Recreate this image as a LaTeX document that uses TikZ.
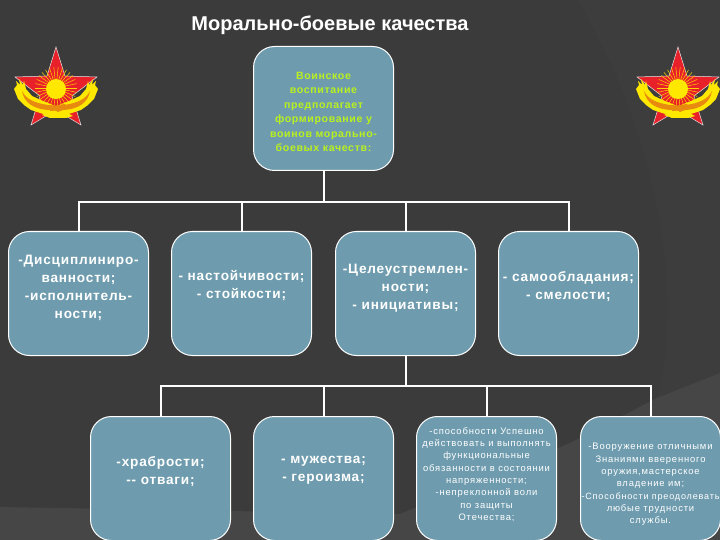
\documentclass[tikz,border=0pt]{standalone}
\usetikzlibrary{calc}
\usepackage{fontspec}
\setmainfont{Liberation Sans}
\newfontfamily\trb[LetterSpace=6]{Liberation Sans Bold}
\newfontfamily\trs[LetterSpace=9]{Liberation Sans}
\definecolor{bgc}{HTML}{3B3B3B}
\definecolor{bgr}{HTML}{3D3D3D}
\definecolor{bgl}{HTML}{464646}
\definecolor{boxc}{HTML}{6E9CAE}
\definecolor{limec}{HTML}{B9F01E}
\definecolor{stard}{HTML}{E8202A}
\definecolor{suny}{HTML}{FFE800}
\definecolor{wingo}{HTML}{E88A10}
\newcommand{\btext}[2]{\parbox[c][124pt][t]{140pt}{\centering\vspace*{#1pt}#2\par}}
\tikzset{
  card/.style={draw=white,line width=1pt,fill=boxc,rounded corners=21pt,minimum width=140pt,minimum height=124pt,inner sep=0pt,text=white,anchor=north west},
  link/.style={draw=white,line width=2pt},
  midtxt/.style={font=\trb\fontsize{13.6}{18}\selectfont},
  smalltxt/.style={font=\trs\fontsize{9.4}{12.3}\selectfont},
  toptxt/.style={font=\trb\fontsize{10.6}{14.5}\selectfont,text=limec},
  emblem/.pic={
    \fill[stard,draw=white!80!gray,line width=.5pt] (0,-41) -- (9,-12) -- (41,-11) -- (16,8) -- (25,37) -- (0,22) -- (-25,37) -- (-16,8) -- (-41,-11) -- (-9,-12) -- cycle;
    \foreach \a in {0,12,...,348}{\draw[suny!80!orange,line width=.5pt] (\a:9) -- (\a:21);}
    \fill[suny] (0,1) circle (10);
    \foreach \s in {1,-1}{
      \begin{scope}[xscale=\s]
        \fill[suny] (-42,1) -- (-39,-3) -- (-40,-7) -- (-36,-3) -- (-37,-9) -- (-33,-3) -- (-32,-7) -- (-30,1) -- (-24,8) -- (-13,13) -- (-3,17) -- (2,24) -- (-9,27) -- (-16,25) -- (-25,22) -- (-32,17) -- (-38,11) -- cycle;
        \fill[wingo] (-34,3) .. controls (-30,11) and (-22,15) .. (-8,17) -- (6,18) -- (6,23) -- (-8,22) .. controls (-22,21) and (-32,15) .. (-34,3) -- cycle;
      \end{scope}
    }
    \fill[suny] (-14,27) -- (-8,24) -- (10,24) -- (17,28) -- (10,30) -- (-6,30) -- cycle;
    \fill[wingo] (-6,19) -- (8,16) -- (14,19) -- (2,24) -- cycle;
  }
}
\begin{document}
\begin{tikzpicture}[x=1pt,y=-1pt]
\useasboundingbox (0,0) rectangle (720,540);
\fill[bgc] (0,0) rectangle (720,540);
\fill[bgr] (577,0) .. controls (640,100) and (690,270) .. (657,398) -- (720,373) -- (720,0) -- cycle;
\fill[bgl] (0,507) -- (400,514) -- (570,443) -- (657,398) -- (720,373) -- (720,540) -- (0,540) -- cycle;
\node[anchor=center,text=white,font=\bfseries\fontsize{20}{24}\selectfont] (title) at (330,25) {Морально-боевые качества};
\pic at (56,88) {emblem};
\pic at (678,88) {emblem};

\node[card,toptxt] (top) at (253,46) {\btext{25.5}{Воинское\\воспитание\\предполагает\\формирование у\\воинов морально-\\боевых качеств:}};

\node[card,midtxt] (a) at (8,231) {\btext{24}{-Дисциплиниро-\\ванности;\\-исполнитель-\\ности;}};
\node[card,midtxt] (b) at (171,231) {\btext{39}{- настойчивости;\\- стойкости;}};
\node[card,midtxt] (c) at (335,231) {\btext{33}{-Целеустремлен-\\ности;\\- инициативы;}};
\node[card,midtxt] (d) at (498,231) {\btext{40}{- самообладания;\\- смелости;}};

\node[card,midtxt] (e) at (90,416) {\btext{40}{-храбрости;\\-- отваги;}};
\node[card,midtxt] (f) at (253,416) {\btext{40}{- мужества;\\- героизма;}};
\node[card,smalltxt] (g) at (416,416) {\btext{11}{-способности Успешно\\действовать и выполнять\\функциональные\\обязанности в состоянии\\напряженности;\\-непреклонной воли\\по защиты\\Отечества;}};
\node[card,smalltxt] (h) at (580,416) {\btext{27}{-Вооружение отличными\\Знаниями вверенного\\оружия,мастерское\\владение им;\\{\fontsize{9.05}{12.3}\selectfont -Способности преодолевать}\\любые трудности\\службы.}};

\coordinate (bus1) at ($(top.south)+(0,31)$);
\coordinate (bus2) at ($(c.south)+(0,30)$);
\draw[link] (top.south) -- (bus1);
\foreach \n in {a,b,c,d}{\draw[link,line cap=rect] (bus1) -| (\n.north);}
\draw[link] (c.south) -- (bus2);
\foreach \n in {e,f,g,h}{\draw[link,line cap=rect] (bus2) -| (\n.north);}
\end{tikzpicture}
\end{document}
